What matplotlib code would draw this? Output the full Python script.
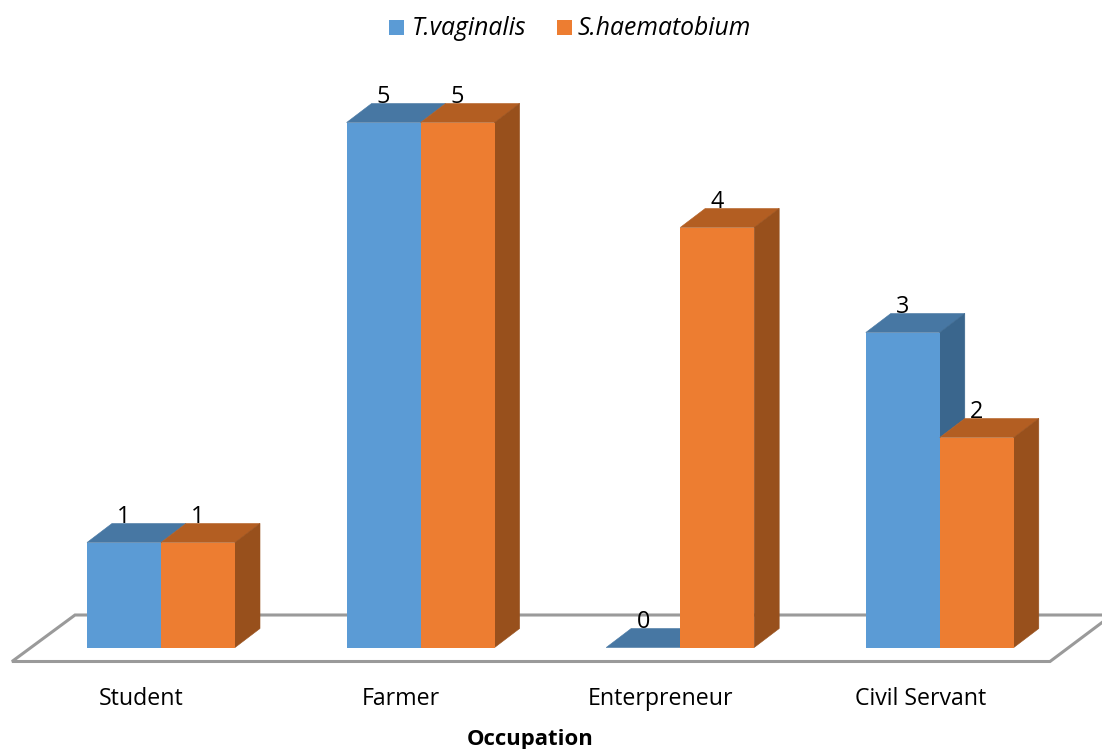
import matplotlib
matplotlib.use("Agg")
import matplotlib.pyplot as plt
from matplotlib.patches import Polygon, Rectangle

occupations = ["Student", "Farmer", "Enterpreneur", "Civil Servant"]
t_vaginalis = [1, 5, 0, 3]
s_haematobium = [1, 5, 4, 2]

WIDTH, HEIGHT = 1102, 749
BASE_Y = 647.5      # pixel row of value 0
UNIT_PX = 105.0     # pixels per unit of value
CAT_PX = 259.6      # pixels between categories
FIRST_X = 161.0     # pixel column of the first category centre
BAR_W = 74.0 / CAT_PX
DX = 25.0 / CAT_PX
DY = 19.0 / UNIT_PX

plt.rcParams["font.family"] = ["Open Sans", "DejaVu Sans"]

fig = plt.figure(figsize=(WIDTH / 100, HEIGHT / 100), dpi=100)
ax = fig.add_axes([0, 0, 1, 1])
ax.set_xlim(-FIRST_X / CAT_PX, (WIDTH - FIRST_X) / CAT_PX)
ax.set_ylim((BASE_Y - HEIGHT) / UNIT_PX, BASE_Y / UNIT_PX)
ax.axis("off")


def px(x, y):
    return (x - FIRST_X) / CAT_PX, (BASE_Y - y) / UNIT_PX


# floor of the 3D box
floor = [px(12, 661.5), px(1050, 661.5), px(1112, 615), px(75, 615)]
ax.add_patch(Polygon(floor, closed=True, facecolor="white", edgecolor="#9a9a9a",
                     linewidth=2.2, zorder=1))


def draw_bar(x_left, value, side_from, front, top, side, z):
    # side_from is the height where the side face stops being hidden by the next bar
    x_right = x_left + BAR_W
    ax.add_patch(Polygon([(x_left, value), (x_right, value),
                          (x_right + DX, value + DY), (x_left + DX, value + DY)],
                         closed=True, facecolor=top, edgecolor=top, linewidth=0.4, zorder=z))
    if value > side_from:
        ax.add_patch(Polygon([(x_right, side_from), (x_right + DX, side_from + DY),
                              (x_right + DX, value + DY), (x_right, value)],
                             closed=True, facecolor=side, edgecolor=side, linewidth=0.4, zorder=z))
    ax.bar(x_left, value, width=BAR_W, align="edge", color=front, linewidth=0, zorder=z + 0.5)
    ax.text(x_left + BAR_W / 2, value + DY + 0.002, str(value), ha="center", va="baseline",
            fontsize=16.8, color="black", zorder=10)


for i in range(len(occupations)):
    draw_bar(i - BAR_W, t_vaginalis[i], s_haematobium[i], "#5b9bd5", "#4777a3", "#3a668d", 2 + i)
    draw_bar(i, s_haematobium[i], 0, "#ed7d31", "#b35e22", "#98501c", 2.6 + i)
    ax.text(*px(FIRST_X + i * CAT_PX - 19.5, 705), occupations[i], ha="center", va="baseline",
            fontsize=16.7, color="black")

ax.text(*px(530.5, 745), "Occupation", ha="center", va="baseline", fontsize=15.9,
        fontweight="bold", color="black")

# legend drawn by hand so swatches and labels sit where wanted
for swatch_x, label_x, color, name in [(389, 412, "#5b9bd5", "T.vaginalis"),
                                       (557, 578, "#ed7d31", "S.haematobium")]:
    ax.add_patch(Rectangle(px(swatch_x, 35), 15 / CAT_PX, 15 / UNIT_PX, facecolor=color,
                           edgecolor="none"))
    ax.text(*px(label_x, 35), name, ha="left", va="baseline", fontsize=17.8,
            style="italic", color="black")

fig.savefig("out.png", dpi=100)
